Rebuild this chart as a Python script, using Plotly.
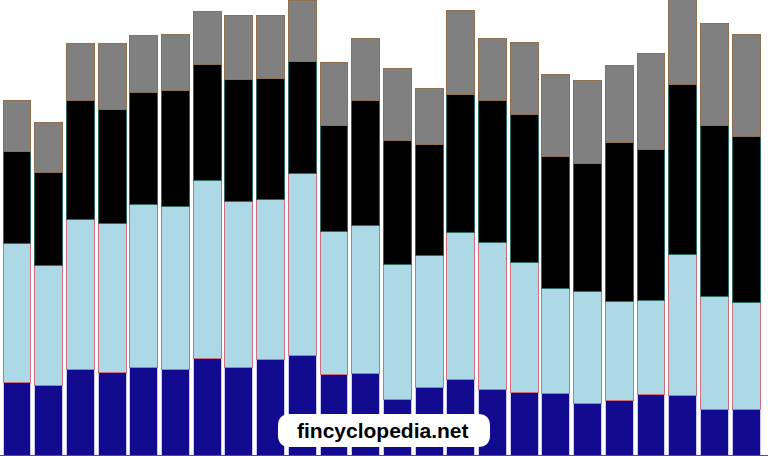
import plotly.graph_objects as go

categories = [f"P{i}" for i in range(1, 25)]

dark_blue = [16.0, 15.2, 18.7, 18.2, 19.3, 18.9, 21.3, 19.3, 20.9, 21.8, 17.6, 18.0,
             12.1, 14.9, 16.7, 14.3, 13.8, 13.6, 11.4, 11.9, 13.2, 13.0, 10.1, 10.1]
light_blue = [30.5, 26.4, 33.0, 32.7, 35.8, 35.8, 39.1, 36.5, 35.2, 40.0, 31.6, 32.5,
              29.7, 29.0, 32.1, 32.5, 28.6, 22.9, 24.6, 21.8, 20.7, 31.0, 24.8, 23.5]
black = [20.2, 20.4, 26.2, 25.1, 24.6, 25.5, 25.5, 26.8, 26.6, 24.6, 23.3, 27.5,
         27.3, 24.4, 30.5, 31.2, 32.5, 29.0, 28.1, 34.9, 33.2, 37.4, 37.6, 36.5]
gray = [11.2, 11.0, 12.5, 14.5, 12.5, 12.3, 11.6, 14.1, 13.8, 13.4, 13.8, 13.6,
        15.8, 12.3, 18.5, 13.6, 15.8, 18.2, 18.2, 17.1, 21.1, 19.3, 22.4, 22.4]

series = [
    ("Series 1", dark_blue, "#120a8f", "#c9c6ff"),
    ("Series 2", light_blue, "#add8e6", "#cc7080"),
    ("Series 3", black, "#000000", "#2f6b66"),
    ("Series 4", gray, "#808080", "#8c7050"),
]

fig = go.Figure()
for name, vals, fill, edge in series:
    fig.add_trace(go.Bar(
        x=categories, y=vals, name=name,
        marker=dict(color=fill, line=dict(color=edge, width=1)),
    ))

fig.update_layout(
    barmode="stack",
    bargap=0.12,
    width=768, height=456,
    margin=dict(l=0, r=0, t=0, b=1),
    paper_bgcolor="white",
    plot_bgcolor="white",
    showlegend=False,
    xaxis=dict(range=[-0.536, 23.69], showticklabels=False, showgrid=False,
               zeroline=False, showline=True, linecolor="#555555", linewidth=1),
    yaxis=dict(range=[0, 100], showticklabels=False, showgrid=False, zeroline=False),
)

# rounded white label box
x0, x1 = 278 / 768, 490 / 768
y0, y1 = (455 - 447) / 455, (455 - 414) / 455
rx, ry = 12 / 768, 12 / 455
path = (f"M {x0+rx},{y0} L {x1-rx},{y0} Q {x1},{y0} {x1},{y0+ry} "
        f"L {x1},{y1-ry} Q {x1},{y1} {x1-rx},{y1} L {x0+rx},{y1} "
        f"Q {x0},{y1} {x0},{y1-ry} L {x0},{y0+ry} Q {x0},{y0} {x0+rx},{y0} Z")
fig.add_shape(type="path", path=path, xref="paper", yref="paper",
              fillcolor="white", line=dict(width=0), layer="above")

fig.add_annotation(
    text="<b>fincyclopedia.net</b>", xref="paper", yref="paper",
    x=383 / 768, y=(455 - 430) / 455, xanchor="center", yanchor="middle",
    showarrow=False,
    font=dict(family="Liberation Sans, Arial", size=21, color="black"),
)

fig.write_html("out.html", config={"displayModeBar": False},
               post_script="document.body.style.margin='0';")
